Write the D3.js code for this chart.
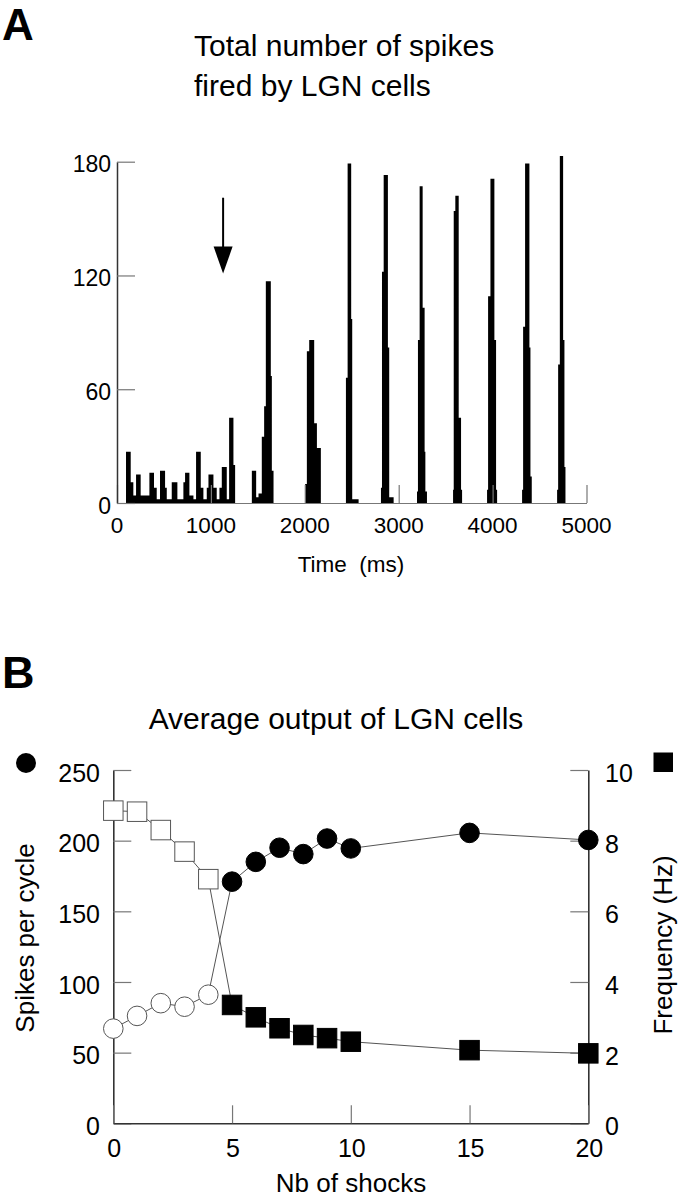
<!DOCTYPE html>
<html>
<head>
<meta charset="utf-8">
<script src="https://cdn.jsdelivr.net/npm/d3@7"></script>
<style>
  html, body { margin: 0; padding: 0; background: #fff; }
  svg { display: block; font-family: "Liberation Sans", Arial, Helvetica, sans-serif; }
</style>
</head>
<body>
<svg id="chart" width="679" height="1199"></svg>
<script>
// ---------- Panel A data: PSTH drawn as step outline (bin start time in ms, spike count) ----------
const histTime = [0, 96, 146, 174, 203, 252, 345, 394, 423, 458, 512, 530, 583, 643, 707, 725, 771, 814, 842, 892, 920, 956, 974, 1027, 1062, 1091, 1116, 1169, 1194, 1240, 1258,
  1436, 1482, 1507, 1542, 1567, 1585, 1638, 1649, 1667,
  2004, 2022, 2047, 2100, 2129, 2171,
  2438, 2456, 2494, 2505, 2573,
  2811, 2822, 2840, 2885, 2899, 2946,
  3195, 3205, 3223, 3255, 3276, 3284, 3301,
  3579, 3586, 3603, 3639, 3664, 3675,
  3941, 3952, 3977, 4019, 4037, 4048,
  4314, 4325, 4346, 4392, 4403, 4417,
  4687, 4698, 4716, 4751, 4765, 4776, 5000];
const histCount = [0, 27, 11, 4, 15, 4, 16, 8, 2, 17, 8, 2, 11, 2, 11, 16, 4, 2, 27, 8, 2, 8, 15, 8, 2, 8, 19, 2, 45, 20, 0,
  17, 3, 5, 35, 51, 117, 67, 17, 0,
  10, 80, 86, 42, 29, 0,
  66, 179, 97, 2, 0,
  8, 122, 173, 82, 3, 0,
  6, 86, 167, 103, 27, 6, 0,
  7, 154, 162, 45, 7, 0,
  7, 109, 171, 86, 7, 0,
  7, 93, 179, 82, 14, 0,
  7, 73, 183, 86, 19, 0, 0];
const histYTicks = [0, 60, 120, 180];
const histXTicks = [0, 1000, 2000, 3000, 4000, 5000];
const arrowTime = 1130;          // stimulus arrow (ms)
const arrowSpan = [161, 121];    // arrow from / to (count units)

// ---------- Panel B data ----------
const shocks = [0, 1, 2, 3, 4, 5, 6, 7, 8, 9, 10, 15, 20];
const spikesPerCycle = [67, 76, 85, 82.5, 91, 171, 185, 195, 190.5, 201.5, 194.5, 205.5, 200.5];
const frequencyHz = [8.85, 8.82, 8.3, 7.69, 6.91, 3.35, 3.0, 2.69, 2.5, 2.41, 2.31, 2.07, 1.98];
const filled = [false, false, false, false, false, true, true, true, true, true, true, true, true];
const shockTicks = [0, 5, 10, 15, 20];
const spikeTicks = [0, 50, 100, 150, 200, 250];
const freqTicks = [0, 2, 4, 6, 8, 10];

const svg = d3.select("#chart");
const axisDark = "#333";
const axisGray = "#777";

// ================= PANEL A =================
svg.append("text").attr("x", 2).attr("y", 40).attr("font-size", 44).attr("font-weight", "bold").text("A");
svg.append("text").attr("x", 194).attr("y", 56).attr("font-size", 30).text("Total number of spikes");
svg.append("text").attr("x", 194).attr("y", 96).attr("font-size", 30).text("fired by LGN cells");

const xA = d3.scaleLinear().domain([0, 5000]).range([117, 586.5]);
const yA = d3.scaleLinear().domain([0, 180]).range([503, 161.7]);

const area = d3.area()
  .x((d, i) => xA(histTime[i]))
  .y0(yA(0))
  .y1((d, i) => yA(histCount[i]))
  .curve(d3.curveStepAfter);
svg.append("path").datum(histCount).attr("d", area).attr("fill", "#000");

// x axis A (ticks inward / upward)
const gxA = svg.append("g").attr("transform", `translate(0,${yA(0)})`)
  .call(d3.axisTop(xA).tickValues(histXTicks).tickSize(18).tickSizeOuter(0).tickFormat(""));
gxA.select(".domain").attr("stroke", axisGray).attr("stroke-width", 1.2);
gxA.selectAll(".tick line").attr("stroke", axisGray).attr("stroke-width", 1.2);
svg.append("g").selectAll("text").data(histXTicks).join("text")
  .attr("x", d => xA(d)).attr("y", 533).attr("text-anchor", "middle").attr("font-size", 22.5)
  .text(d => d);
svg.append("text").attr("x", 351).attr("y", 572).attr("text-anchor", "middle").attr("font-size", 22.5)
  .style("white-space", "pre").text("Time  (ms)");

// y axis A (ticks inward / right)
const gyA = svg.append("g").attr("transform", `translate(${xA(0)},0)`)
  .call(d3.axisRight(yA).tickValues(histYTicks).tickSize(18).tickSizeOuter(0).tickFormat(""));
gyA.select(".domain").attr("stroke", axisDark).attr("stroke-width", 1.5);
gyA.selectAll(".tick line").attr("stroke", axisGray).attr("stroke-width", 1.2);
svg.append("g").selectAll("text").data(histYTicks).join("text")
  .attr("x", 111).attr("y", d => yA(d) + 10.5).attr("text-anchor", "end").attr("font-size", 23)
  .text(d => d);

// stimulus arrow
const ax = xA(arrowTime);
const yTop = yA(arrowSpan[0]), yTip = yA(arrowSpan[1]);
svg.append("line").attr("x1", ax).attr("x2", ax).attr("y1", yTop).attr("y2", yTip - 20)
  .attr("stroke", "#000").attr("stroke-width", 2);
svg.append("path").attr("d", `M${ax - 9.5},${yTip - 27} L${ax + 9.5},${yTip - 27} L${ax},${yTip} Z`).attr("fill", "#000");

// ================= PANEL B =================
svg.append("text").attr("x", 2).attr("y", 688).attr("font-size", 45).attr("font-weight", "bold").text("B");
svg.append("text").attr("x", 336).attr("y", 729).attr("text-anchor", "middle").attr("font-size", 30)
  .text("Average output of LGN cells");

const xB = d3.scaleLinear().domain([0, 20]).range([113.3, 588.3]);
const yL = d3.scaleLinear().domain([0, 250]).range([1123.3, 770]);
const yR = d3.scaleLinear().domain([0, 10]).range([1123.3, 770]);

// left axis
const gyL = svg.append("g").attr("transform", `translate(${xB(0)},0)`)
  .call(d3.axisRight(yL).tickValues(spikeTicks).tickSize(18).tickSizeOuter(0).tickFormat(""));
gyL.select(".domain").attr("stroke", axisDark).attr("stroke-width", 1.6);
gyL.selectAll(".tick line").attr("stroke", axisGray).attr("stroke-width", 1.2);
svg.append("g").selectAll("text").data(spikeTicks).join("text")
  .attr("x", 100).attr("y", d => yL(d) + 11.7).attr("text-anchor", "end").attr("font-size", 25)
  .text(d => d);

// right axis
const gyR = svg.append("g").attr("transform", `translate(${xB(20)},0)`)
  .call(d3.axisLeft(yR).tickValues(freqTicks).tickSize(18).tickSizeOuter(0).tickFormat(""));
gyR.select(".domain").attr("stroke", axisDark).attr("stroke-width", 1.6);
gyR.selectAll(".tick line").attr("stroke", axisGray).attr("stroke-width", 1.2);
svg.append("g").selectAll("text").data(freqTicks).join("text")
  .attr("x", 605).attr("y", d => yR(d) + 12).attr("text-anchor", "start").attr("font-size", 25)
  .text(d => d);

// bottom axis
const gxB = svg.append("g").attr("transform", `translate(0,${yL(0)})`)
  .call(d3.axisTop(xB).tickValues(shockTicks).tickSize(18).tickSizeOuter(0).tickFormat(""));
gxB.select(".domain").attr("stroke", axisDark).attr("stroke-width", 1.6);
gxB.selectAll(".tick line").attr("stroke", axisGray).attr("stroke-width", 1.2);
svg.append("g").selectAll("text").data(shockTicks).join("text")
  .attr("x", d => xB(d) + 1).attr("y", 1157).attr("text-anchor", "middle").attr("font-size", 25)
  .text(d => d);
svg.append("text").attr("x", 351).attr("y", 1192).attr("text-anchor", "middle").attr("font-size", 26)
  .text("Nb of shocks");

svg.append("text").attr("transform", "translate(34,938) rotate(-90)").attr("text-anchor", "middle")
  .attr("font-size", 26).text("Spikes per cycle");
svg.append("text").attr("transform", "translate(672,945) rotate(-90)").attr("text-anchor", "middle")
  .attr("font-size", 26).text("Frequency (Hz)");

// connecting lines
const lineL = d3.line().x((d, i) => xB(shocks[i])).y(d => yL(d));
const lineR = d3.line().x((d, i) => xB(shocks[i])).y(d => yR(d));
svg.append("path").datum(spikesPerCycle).attr("d", lineL).attr("fill", "none").attr("stroke", "#555").attr("stroke-width", 1);
svg.append("path").datum(frequencyHz).attr("d", lineR).attr("fill", "none").attr("stroke", "#555").attr("stroke-width", 1);

// square markers (frequency)
const sq = 19.5;
svg.append("g").selectAll("rect").data(frequencyHz).join("rect")
  .attr("x", (d, i) => xB(shocks[i]) - sq / 2).attr("y", d => yR(d) - sq / 2)
  .attr("width", sq).attr("height", sq)
  .attr("fill", (d, i) => filled[i] ? "#000" : "#fff")
  .attr("stroke", (d, i) => filled[i] ? "#000" : "#555").attr("stroke-width", 1);

// circle markers (spikes per cycle)
svg.append("g").selectAll("circle").data(spikesPerCycle).join("circle")
  .attr("cx", (d, i) => xB(shocks[i])).attr("cy", d => yL(d)).attr("r", 9.8)
  .attr("fill", (d, i) => filled[i] ? "#000" : "#fff")
  .attr("stroke", (d, i) => filled[i] ? "#000" : "#555").attr("stroke-width", 1);

// legend symbols
svg.append("circle").attr("cx", 26).attr("cy", 763).attr("r", 10).attr("fill", "#000");
svg.append("rect").attr("x", 653.5).attr("y", 752.5).attr("width", 19.5).attr("height", 19.5).attr("fill", "#000");
</script>
</body>
</html>
